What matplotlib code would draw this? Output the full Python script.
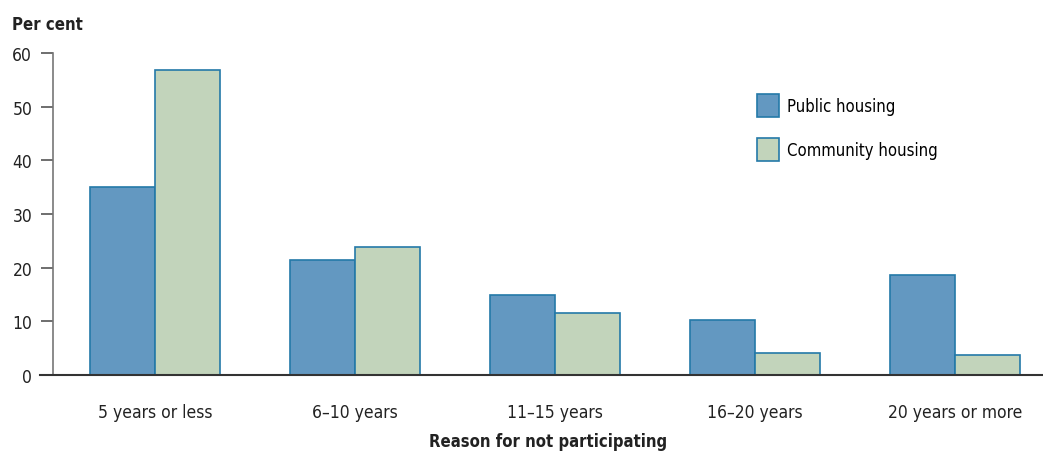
import numpy as np
import matplotlib.pyplot as plt
from matplotlib.patches import Patch

categories = ['5 years or less', '6\u201310 years', '11\u201315 years', '16\u201320 years', '20 years or more']
public_housing = [35.0, 21.4, 14.9, 10.2, 18.6]
community_housing = [56.8, 23.8, 11.5, 4.1, 3.7]

plt.rcParams['font.family'] = ['DejaVu Sans']
plt.rcParams['font.stretch'] = 'condensed'

blue_fill = '#6398c1'
green_fill = '#c2d4bb'
edge = '#2479a8'
fs = 12.5

fig = plt.figure(figsize=(10.43, 4.52), dpi=100)
ax = fig.add_axes([53 / 1043, 1 - 376 / 452, (1043 - 53) / 1043, (376 - 54) / 452])

x = np.arange(len(categories))
w = 0.325
ax.bar(x - w / 2, public_housing, w, color=blue_fill, edgecolor=edge, linewidth=1.2,
       label='Public housing')
ax.bar(x + w / 2, community_housing, w, color=green_fill, edgecolor=edge, linewidth=1.2,
       label='Community housing')

ax.set_xlim(-0.51, 4.44)
ax.set_ylim(0, 60)
ax.set_yticks(range(0, 61, 10))
ax.set_xticks(x)
ax.set_xticklabels(categories, fontsize=fs, color='#222222')
ax.tick_params(axis='x', length=0, pad=20)
ax.tick_params(axis='y', length=9, width=1.2, color='#555555', labelsize=fs,
               labelcolor='#222222', pad=6)

for s in ['top', 'right']:
    ax.spines[s].set_visible(False)
ax.spines['left'].set_color('#777777')
ax.spines['left'].set_linewidth(1.2)
ax.spines['bottom'].set_color('#333333')
ax.spines['bottom'].set_linewidth(1.5)
ax.spines['bottom'].set_bounds(-0.575, 4.44)

ax.set_xlabel('Reason for not participating', fontsize=12, fontweight='bold',
              color='#222222', labelpad=8)
fig.text(12 / 1043, 1 - 25 / 452, 'Per cent', fontsize=12, fontweight='bold',
         color='#222222', va='center', ha='left')

handles = [Patch(facecolor=blue_fill, edgecolor=edge, linewidth=1.2),
           Patch(facecolor=green_fill, edgecolor=edge, linewidth=1.2)]
ax.legend(handles, ['Public housing', 'Community housing'], loc='upper left',
          bbox_to_anchor=((757 - 53) / 990, 1 - (95 - 54) / 322), frameon=False,
          fontsize=12, handlelength=1.3, handleheight=1.7, handletextpad=0.5,
          labelspacing=1.3, borderpad=0, borderaxespad=0)

fig.savefig('out.png', dpi=100)
